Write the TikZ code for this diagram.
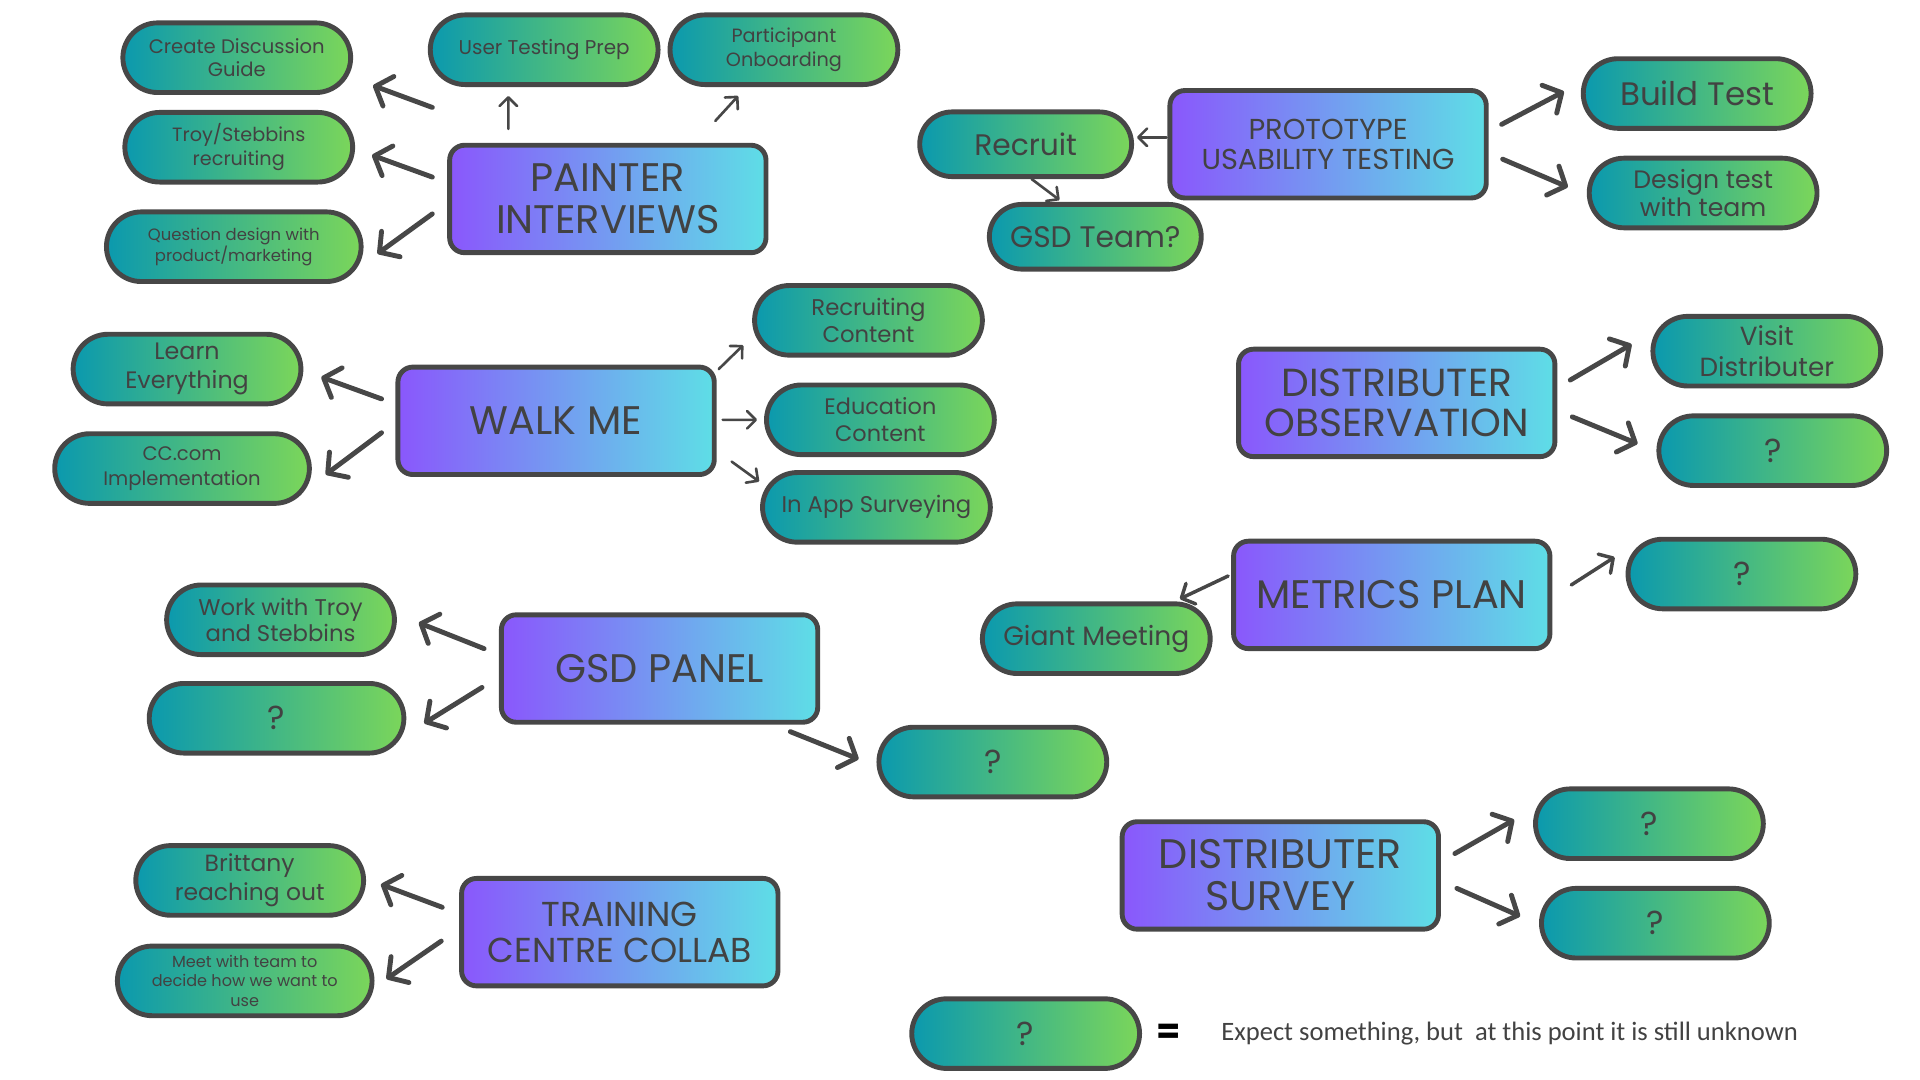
\documentclass[tikz,border=0pt]{standalone}
\usepackage{fontspec}
\setmainfont{Poppins}
\newfontfamily\notefont{Carlito}
\usetikzlibrary{shapes.misc,arrows.meta}
\definecolor{edgegray}{HTML}{474747}
\definecolor{inkgray}{HTML}{424242}
\definecolor{topicleft}{HTML}{8A57FC}
\definecolor{topicright}{HTML}{5EDEE6}
\definecolor{taskleft}{HTML}{0B99AE}
\definecolor{taskright}{HTML}{7BD65A}

\begin{document}
\begin{tikzpicture}[inner sep=0pt,
   topic/.style={draw=edgegray, line width=1.4pt, rounded corners=0.15cm, left color=topicleft, right color=topicright, minimum width=3.18cm, minimum height=1.08cm, align=center, text=inkgray, font=\fontsize{11.4}{12}\selectfont},
   task/.style={draw=edgegray, line width=1.4pt, rounded rectangle, left color=taskleft, right color=taskright, minimum width=2.29cm, minimum height=0.70cm, align=center, text=inkgray, font=\fontsize{6.5}{7.8}\selectfont},
   unknown/.style={task, font=\fontsize{9.5}{9.5}\selectfont},
   bigarr/.style={draw=edgegray, line width=1.4pt, line cap=round, -{Straight Barb[length=4pt,width=9pt,round]}},
   midarr/.style={draw=edgegray, line width=1pt, line cap=round, -{Straight Barb[length=3pt,width=6.5pt,round]}},
   thinarr/.style={draw=edgegray, line width=0.75pt, line cap=round, -{Straight Barb[length=2.5pt,width=5pt,round]}}
   ]
   \useasboundingbox (0,0) rectangle (19.30,-10.85);

   \path (6.11,-2.00) node[topic] (pi) {PAINTER\\INTERVIEWS}
   (5.59,-4.23) node[topic] (wm) {WALK ME}
   (6.63,-6.72) node[topic] (gsd) {GSD PANEL}
   (6.23,-9.37) node[topic, font=\fontsize{9.9}{10.2}\selectfont] (tcc) {TRAINING\\CENTRE COLLAB}
   (13.35,-1.45) node[topic, font=\fontsize{8.25}{8.5}\selectfont] (put) {PROTOTYPE\\USABILITY TESTING}
   (14.04,-4.05) node[topic, font=\fontsize{11.2}{11.5}\selectfont] (dob) {DISTRIBUTER\\OBSERVATION}
   (13.99,-5.98) node[topic] (mp) {METRICS PLAN}
   (12.87,-8.80) node[topic, font=\fontsize{11.8}{12}\selectfont] (ds) {DISTRIBUTER\\SURVEY};

   \path (2.38,-0.58) node[task, font=\fontsize{5.6}{6.6}\selectfont] (cdg) {Create Discussion\\Guide}
   (5.47,-0.50) node[task, font=\fontsize{5.7}{6.6}\selectfont] (utp) {User Testing Prep}
   (7.88,-0.50) node[task, font=\fontsize{5.5}{6.6}\selectfont] (po) {Participant\\Onboarding}
   (2.40,-1.48) node[task, font=\fontsize{5.5}{6.8}\selectfont] (tsr) {Troy/Stebbins\\recruiting}
   (2.35,-2.48) node[task, minimum width=2.56cm, font=\fontsize{4.7}{5.9}\selectfont] (qd) {Question design with\\product/marketing}
   (10.31,-1.45) node[task, minimum width=2.13cm, minimum height=0.65cm, font=\fontsize{8.5}{9}\selectfont] (rec) {Recruit}
   (11.01,-2.38) node[task, minimum width=2.13cm, minimum height=0.65cm, font=\fontsize{8.5}{9}\selectfont] (gt) {GSD Team?}
   (17.06,-0.94) node[task, font=\fontsize{9.3}{9.5}\selectfont] (bt) {Build Test}
   (17.12,-1.94) node[task, font=\fontsize{7.2}{8}\selectfont] (dt) {Design test\\with team}
   (8.73,-3.22) node[task, font=\fontsize{6.5}{7.8}\selectfont] (rc) {Recruiting\\Content}
   (8.85,-4.22) node[task, font=\fontsize{6.4}{7.8}\selectfont] (ec) {Education\\Content}
   (8.81,-5.10) node[task, font=\fontsize{6.5}{7.8}\selectfont] (ias) {In App Surveying}
   (1.88,-3.71) node[task, font=\fontsize{6.8}{8.4}\selectfont] (le) {Learn\\Everything}
   (1.83,-4.71) node[task, minimum width=2.56cm, font=\fontsize{5.6}{7}\selectfont] (cc) {CC.com\\Implementation}
   (17.76,-3.53) node[task, font=\fontsize{7.5}{8.9}\selectfont] (vd) {Visit\\Distributer}
   (17.82,-4.53) node[unknown] (qa) {?}
   (17.51,-5.77) node[unknown] (qb) {?}
   (11.02,-6.42) node[task, font=\fontsize{7.6}{8}\selectfont] (gm) {Giant Meeting}
   (2.82,-6.23) node[task, font=\fontsize{6.5}{7.6}\selectfont] (wt) {Work with Troy\\and Stebbins}
   (2.78,-7.22) node[unknown, minimum width=2.56cm] (qc) {?}
   (9.98,-7.66) node[unknown] (qd2) {?}
   (16.58,-8.28) node[unknown] (qe) {?}
   (16.64,-9.28) node[unknown] (qf) {?}
   (2.51,-8.85) node[task, font=\fontsize{6.7}{8.2}\selectfont] (br) {Brittany\\reaching out}
   (2.46,-9.86) node[task, minimum width=2.56cm, font=\fontsize{4.6}{5.7}\selectfont] (mt) {Meet with team to\\decide how we want to\\use}
   (10.31,-10.39) node[unknown] (ql) {?};

   \path (11.75,-10.39) node[font=\bfseries\fontsize{10}{10}\selectfont] (eq) {=}
   (12.27,-10.39) node[anchor=west, text=inkgray, font=\notefont\fontsize{7.6}{8}\selectfont] (note) {Expect something, but\ \ at this point it is still unknown};

   \draw[bigarr] ([shift={(-0.15,0.92)}]pi.west) -- ([shift={(0.20,-0.28)}]cdg.east);
   \draw[bigarr] ([shift={(-0.15,0.22)}]pi.west) -- ([shift={(0.17,-0.08)}]tsr.east);
   \draw[bigarr] ([shift={(-0.15,-0.15)}]pi.west) -- ([shift={(0.14,-0.07)}]qd.east);
   \draw[thinarr] ([shift={(-1.00,0.14)}]pi.north) -- ([shift={(-0.36,-0.09)}]utp.south);
   \draw[thinarr] ([shift={(1.08,0.22)}]pi.north) -- ([shift={(-0.46,-0.09)}]po.south);

   \draw[bigarr] ([shift={(-0.14,0.22)}]wm.west) -- ([shift={(0.18,-0.08)}]le.east);
   \draw[bigarr] ([shift={(-0.14,-0.12)}]wm.west) -- ([shift={(0.14,-0.06)}]cc.east);
   \draw[thinarr] ([shift={(0.02,0.52)}]wm.east) -- ([shift={(-0.09,-0.25)}]rc.west);
   \draw[thinarr] ([shift={(0.06,0.01)}]wm.east) -- ([shift={(-0.07,0)}]ec.west);
   \draw[thinarr] ([shift={(0.15,-0.41)}]wm.east) -- ([shift={(-0.01,0.26)}]ias.west);

   \draw[bigarr] ([shift={(-0.15,0.20)}]gsd.west) -- ([shift={(0.22,-0.03)}]wt.east);
   \draw[bigarr] ([shift={(-0.17,-0.19)}]gsd.west) -- ([shift={(0.18,-0.05)}]qc.east);
   \draw[bigarr] ([shift={(-0.30,-0.07)}]gsd.south east) -- ([shift={(-0.18,0.03)}]qd2.west);

   \draw[bigarr] ([shift={(-0.17,0.25)}]tcc.west) -- ([shift={(0.15,-0.04)}]br.east);
   \draw[bigarr] ([shift={(-0.18,-0.09)}]tcc.west) -- ([shift={(0.12,0.02)}]mt.east);

   \draw[thinarr] ([shift={(-0.01,0.07)}]put.west) -- ([shift={(0.03,0.07)}]rec.east);
   \draw[thinarr] ([shift={(0.06,0)}]rec.south) -- ([shift={(-0.36,0.02)}]gt.north);
   \draw[bigarr] ([shift={(0.13,0.20)}]put.east) -- ([shift={(-0.17,0.02)}]bt.west);
   \draw[bigarr] ([shift={(0.14,-0.15)}]put.east) -- ([shift={(-0.19,0.06)}]dt.west);

   \draw[bigarr] ([shift={(0.13,0.23)}]dob.east) -- ([shift={(-0.19,0.07)}]vd.west);
   \draw[bigarr] ([shift={(0.15,-0.14)}]dob.east) -- ([shift={(-0.19,0.07)}]qa.west);

   \draw[midarr] ([shift={(-0.03,0.19)}]mp.west) -- ([shift={(-0.33,0.40)}]gm.east);
   \draw[midarr] ([shift={(0.19,0.10)}]mp.east) -- ([shift={(-0.11,0.17)}]qb.west);

   \draw[bigarr] ([shift={(0.14,0.22)}]ds.east) -- ([shift={(-0.19,0.04)}]qe.west);
   \draw[bigarr] ([shift={(0.16,-0.13)}]ds.east) -- ([shift={(-0.19,0.07)}]qf.west);

\end{tikzpicture}
\end{document}
